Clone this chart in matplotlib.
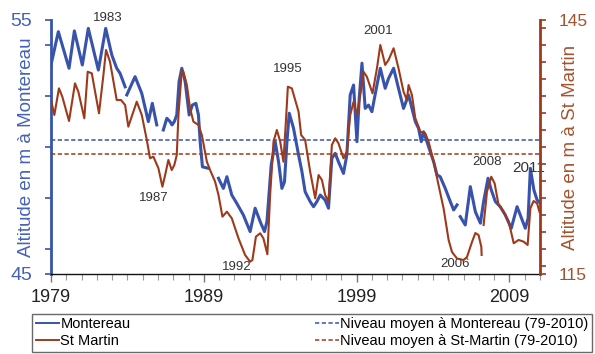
import numpy as np
import matplotlib
matplotlib.use("Agg")
import matplotlib.pyplot as plt
from matplotlib.lines import Line2D
from matplotlib.ticker import MultipleLocator, FixedLocator

plt.rcParams['font.family'] = ['Liberation Sans', 'DejaVu Sans']

nan = np.nan

# Niveau piézométrique à Montereau (m), axe de gauche
mont_years = [1979.00, 1979.48, 1980.18, 1980.53, 1981.05, 1981.44, 1982.10, 1982.58, 1982.98, 1983.30,
              1983.52, 1983.85, 1983.90, 1983.96, 1984.50, 1984.94, 1985.37, 1985.63, 1985.92, 1986.10,
              1986.35, 1986.58, 1986.79, 1986.92, 1987.07, 1987.23, 1987.38, 1987.56, 1987.78, 1988.04,
              1988.25, 1988.48, 1988.65, 1988.76, 1988.91, 1989.30, 1989.60, 1989.96, 1990.07, 1990.28,
              1990.51, 1990.83, 1991.16, 1991.59, 1992.03, 1992.36, 1992.69, 1992.97, 1993.13, 1993.41,
              1993.67, 1993.89, 1994.11, 1994.28, 1994.44, 1994.59, 1994.87, 1995.20, 1995.42, 1995.63,
              1995.96, 1996.18, 1996.40, 1996.62, 1996.94, 1997.16, 1997.38, 1997.60, 1997.81, 1998.14,
              1998.36, 1998.58, 1998.80, 1999.02, 1999.17, 1999.35, 1999.56, 1999.78, 2000.00, 2000.33,
              2000.55, 2000.87, 2001.09, 2001.42, 2001.74, 2002.07, 2002.40, 2002.62, 2002.84, 2003.05,
              2003.23, 2003.38, 2003.71, 2004.04, 2004.26, 2004.47, 2004.80, 2005.13, 2005.35, 2005.57,
              2005.68, 2005.78, 2006.11, 2006.44, 2006.77, 2007.10, 2007.31, 2007.60, 2007.81, 2008.08,
              2008.40, 2008.73, 2009.12, 2009.50, 2009.71, 2010.04, 2010.22, 2010.37, 2010.60, 2010.81,
              2011.00]
mont_values = [53.23, 54.54, 53.10, 54.57, 53.23, 54.67, 53.03, 54.67, 53.62, 53.10,
               52.90, 52.37, nan, 52.05, 52.77, 52.11, 51.00, 51.72, 50.87, nan,
               50.67, 51.13, 51.00, 50.87, 51.00, 51.26, 52.57, 53.10, 52.57, 51.26,
               51.65, 51.72, 51.26, 50.21, 49.22, 49.16, nan, 48.77, 48.63, 48.37,
               48.83, 48.11, 47.78, 47.32, 46.67, 47.59, 47.06, 46.67, 47.06, 49.29,
               50.21, 49.42, 48.37, 48.63, 50.21, 51.33, 50.74, 49.69, 49.03, 48.24,
               47.85, 47.65, 47.85, 48.11, 47.91, 47.59, 49.56, 49.75, 49.42, 48.96,
               49.69, 52.05, 52.44, 50.21, 51.92, 53.30, 51.52, 51.65, 51.39, 52.44,
               53.10, 52.31, 52.70, 53.10, 52.31, 51.52, 52.05, 51.52, 51.00, 50.74,
               50.21, 50.60, 50.01, 49.42, 48.90, 48.83, 48.37, 47.85, 47.52, 47.72,
               nan, 47.26, 46.93, 48.44, 47.45, 47.00, 47.85, 48.77, 48.31, 47.85,
               47.65, 47.32, 46.80, 47.65, 47.32, 46.80, 47.19, 49.16, 48.31, 47.91,
               47.80]

# Niveau piézométrique à St Martin (m), axe de droite
stm_years = [1979.00, 1979.22, 1979.52, 1979.74, 1980.18, 1980.57, 1980.79, 1981.18, 1981.40, 1981.67,
             1982.14, 1982.43, 1982.60, 1982.86, 1983.30, 1983.58, 1983.85, 1984.06, 1984.61, 1984.94,
             1985.27, 1985.48, 1985.70, 1986.03, 1986.29, 1986.47, 1986.68, 1986.90, 1987.07, 1987.23,
             1987.34, 1987.56, 1987.66, 1987.89, 1988.10, 1988.32, 1988.65, 1988.87, 1989.20, 1989.41,
             1989.74, 1989.96, 1990.22, 1990.51, 1990.83, 1991.27, 1991.70, 1992.03, 1992.18, 1992.41,
             1992.69, 1992.90, 1993.16, 1993.34, 1993.56, 1993.78, 1994.00, 1994.21, 1994.37, 1994.50,
             1994.76, 1995.20, 1995.37, 1995.63, 1995.96, 1996.29, 1996.51, 1996.73, 1996.94, 1997.16,
             1997.38, 1997.60, 1997.81, 1998.14, 1998.36, 1998.58, 1998.80, 1999.02, 1999.24, 1999.45,
             1999.67, 2000.04, 2000.33, 2000.55, 2000.87, 2001.09, 2001.42, 2001.74, 2002.07, 2002.29,
             2002.40, 2002.62, 2002.84, 2003.17, 2003.49, 2003.71, 2004.04, 2004.36, 2004.69, 2005.02,
             2005.24, 2005.57, 2006.00, 2006.22, 2006.55, 2006.77, 2006.98, 2007.16, 2007.18, 2007.25,
             2007.31, 2007.53, 2007.81, 2008.03, 2008.29, 2008.62, 2008.95, 2009.28, 2009.60, 2009.93,
             2010.19, 2010.37, 2010.58, 2010.81, 2010.96]
stm_values = [135.55, 133.78, 136.93, 135.94, 133.07, 137.52, 136.53, 133.39, 138.89, 138.70,
              133.98, 138.50, 141.46, 140.08, 135.55, 135.55, 134.96, 132.40, 135.35, 133.78,
              130.83, 128.67, 128.86, 127.49, 125.31, 126.69, 128.47, 127.28, 127.87, 129.06,
              133.78, 139.09, 138.89, 137.32, 134.57, 132.99, 132.60, 131.42, 128.26, 127.28,
              125.90, 124.33, 121.77, 122.36, 121.58, 119.21, 117.25, 116.45, 116.65, 119.41,
              119.81, 119.21, 117.33, 124.33, 130.63, 132.01, 130.63, 128.26, 132.99, 137.12,
              136.93, 134.17, 131.42, 130.83, 127.08, 123.94, 126.69, 126.10, 124.33, 123.54,
              130.24, 131.03, 130.44, 128.67, 129.45, 133.78, 135.35, 133.78, 136.14, 138.89,
              138.30, 136.34, 139.30, 142.05, 139.69, 140.28, 141.66, 139.30, 136.53, 135.55,
              137.32, 136.14, 133.39, 131.81, 131.62, 130.63, 128.26, 125.51, 122.76, 119.02,
              117.60, 116.83, 116.65, 117.00, 118.78, 119.84, 119.60, 118.20, 117.25, nan,
              120.79, 124.72, 126.49, 125.71, 123.15, 122.36, 121.18, 118.63, 119.02, 118.82,
              118.43, 122.76, 123.62, 123.35, 122.36]

# Niveaux moyens 1979-2010
mont_mean = 50.27
stm_mean = 129.15

# Années remarquables (année, cote sur l'axe de gauche)
event_labels = ["1983", "1987", "1992", "1995", "2001", "2006", "2008", "2011"]
event_x = [1982.69, 1985.75, 1991.16, 1994.49, 2000.38, 2005.46, 2007.53, 2010.24]
event_y = [55.07, 47.98, 45.26, 53.07, 54.57, 45.39, 49.42, 49.16]

year_ticks = [1979, 1989, 1999, 2009]
year_labels = ["1979", "1989", "1999", "2009"]

BLUE = "#3853AC"
BROWN = "#9E3A1C"
BLUE_TXT = "#4561B8"
BROWN_TXT = "#A4532E"
DASH = (2.8, 1.6)

fig = plt.figure(figsize=(5.95, 3.54), dpi=100)
ax = fig.add_axes([51 / 595, 1 - 274 / 354, (540 - 51) / 595, (274 - 20) / 354])
ax2 = ax.twinx()

ax.plot(mont_years, mont_values, color=BLUE, lw=2.2, solid_joinstyle="round")
ax.axhline(mont_mean, color=BLUE, lw=1.1, dashes=DASH)
ax2.plot(stm_years, stm_values, color=BROWN, lw=1.5)
ax2.axhline(stm_mean, color=BROWN, lw=1.1, dashes=DASH)

ax.set_xlim(1979, 2011)
ax.set_ylim(45, 55)
ax2.set_ylim(115, 145)

# Axe de gauche
ax.yaxis.set_major_locator(FixedLocator([45, 55]))
ax.yaxis.set_minor_locator(MultipleLocator(2))
ax.set_yticklabels(["45", "55"])
ax.tick_params(axis="y", which="both", direction="out", length=4.5, width=1.2, color=BLUE,
               labelcolor=BLUE_TXT, labelsize=14, pad=9)
ax.set_ylabel("Altitude en m à Montereau", color=BLUE_TXT, fontsize=13.5)
ax.yaxis.set_label_coords(-0.033, 0.5)

# Axe de droite
ax2.yaxis.set_major_locator(FixedLocator([115, 145]))
ax2.yaxis.set_minor_locator(MultipleLocator(2))
ax2.set_yticklabels(["115", "145"])
ax2.tick_params(axis="y", which="both", direction="out", length=4.5, width=1.2, color=BROWN,
                labelcolor=BROWN_TXT, labelsize=12.5, pad=9)
ax2.set_ylabel("Altitude en m à St Martin", color=BROWN_TXT, fontsize=13.5, rotation=90)
ax2.yaxis.set_label_coords(1.045, 0.5)

# Axe des temps
ax.set_xticks(year_ticks)
ax.set_xticklabels(year_labels)
ax.xaxis.set_minor_locator(MultipleLocator(1))
ax.tick_params(axis="x", which="major", direction="out", length=6, width=1, color="#777777",
               labelsize=13, labelcolor="#222222", pad=5)
ax.tick_params(axis="x", which="minor", direction="out", length=4, width=0.8, color="#999999")

for a in (ax, ax2):
    a.spines["top"].set_visible(False)
ax.spines["left"].set_color(BLUE)
ax.spines["left"].set_linewidth(2)
ax2.spines["right"].set_color(BROWN)
ax2.spines["right"].set_linewidth(2)
ax2.spines["left"].set_visible(False)
ax2.spines["bottom"].set_visible(False)
ax.spines["right"].set_visible(False)
ax.spines["bottom"].set_color("#111111")
ax.spines["bottom"].set_linewidth(1)

for lab, x, y in zip(event_labels, event_x, event_y):
    fs = 11 if lab == "2011" else 9.5
    ax.text(x, y, lab, ha="center", va="center", fontsize=fs, color="#333333",
            clip_on=False, zorder=5)

handles = [
    Line2D([], [], color=BLUE, lw=1.4, label="Montereau"),
    Line2D([], [], color=BROWN, lw=1.4, label="St Martin"),
    Line2D([], [], color=BLUE, lw=1.1, dashes=DASH, label="Niveau moyen à Montereau (79-2010)"),
    Line2D([], [], color=BROWN, lw=1.1, dashes=DASH, label="Niveau moyen à St-Martin (79-2010)"),
]
leg = fig.legend(handles=handles, ncol=2, mode="expand",
                 bbox_to_anchor=(32 / 595, 1 - 352 / 354, (592 - 32) / 595, 41 / 354),
                 loc="lower left", borderaxespad=0, fontsize=10.5, frameon=True,
                 fancybox=False, edgecolor="#444444", handlelength=1.6, handletextpad=0.1,
                 borderpad=0.25, labelspacing=0.2, columnspacing=1.0)
leg.get_frame().set_linewidth(1)

fig.savefig("out.png", dpi=100)
